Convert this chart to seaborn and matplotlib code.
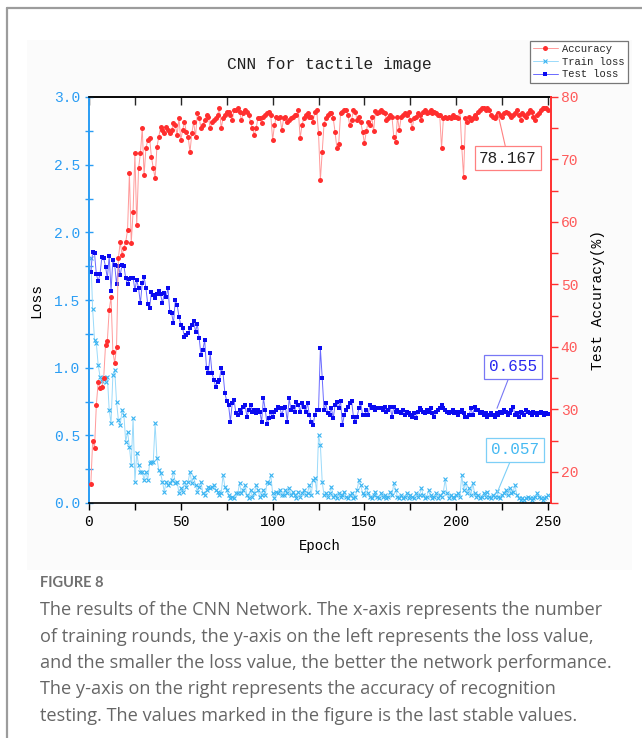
import numpy as np
import pandas as pd
import matplotlib
matplotlib.use("Agg")
import matplotlib.pyplot as plt
import seaborn as sns
from matplotlib.lines import Line2D
from matplotlib.patches import Rectangle
from matplotlib.ticker import MultipleLocator

# ---------------- data ----------------
accuracy = [
    18, 25, 23.8, 30.7, 34.4, 33.4, 33.6, 35, 40.3, 41,
    45.9, 48, 39.2, 37.4, 40, 54.2, 56.8, 54.7, 55.8, 56.8,
    58.7, 67.8, 56.6, 61.6, 71, 59.5, 68.6, 71, 75, 67.5,
    71.8, 73.1, 73.4, 70.4,
    68.6, 67, 72, 73.6, 75.2, 74.7, 74.2, 75.2, 74.7, 74.2,
    74.7, 75.8, 75.5, 73.9, 76.6, 73.1, 74.7, 76, 74.4, 73.6,
    71.2, 74.2, 76, 73.6, 77.4, 76.6, 75, 75.5, 76.3, 77.1,
    76.8, 75, 76, 76.3, 76.6, 77.1, 78.2, 75, 76.6, 77.1,
    77.6, 77.6, 77.1, 76.3, 77.9, 77.9,
    78.2, 77.6, 76.3, 77.4, 77.9, 77.6, 77.1, 76, 75, 73.9,
    75, 76.6, 76.6, 75.8, 76.8, 77.1, 77.4, 77.6, 77.1, 73.1,
    75.5, 76.8, 76.6, 76.8, 74.7, 76.6, 76.8, 76, 76.3, 76.6,
    76.8, 77.1, 77.1, 77.9, 73.4, 75.5, 76.6, 77.1, 77.4, 76.8,
    76.8, 76, 77.6, 77.9, 74.2, 66.7,
    71.2, 75.7, 76.6, 77.1, 77.4, 77.4, 76.6, 74.4, 71.8, 72.5,
    77.4, 77.6, 77.9, 77.9, 77.1, 75.5, 76.3, 77.9, 77.6, 76.3,
    76.8, 76, 74.4, 72.6, 74.5, 76, 75.5, 76.8, 74.5, 77.8,
    77.4, 77.6, 77.9, 77.6, 77.4, 76.3, 76.6, 77.1, 76.8, 73.6,
    72.8,
    76.8, 74.7, 76.8, 77.1, 77.4, 77.1, 77.6, 76.3, 75, 76.6,
    76.8, 77.4, 77.1, 76.3, 77.6, 77.9, 77.4, 77.6, 77.9, 77.4,
    77.6, 77.4, 77.1, 77.1, 71.8, 76.6, 76.8, 76.6, 76.8, 76.6,
    77.1, 76.8, 76.8, 76.6, 77.8, 72, 67.2,
    76.6, 76, 76.8, 76.3, 76.6, 77.1, 76.6,
    77.6, 77.9, 78.2, 78.2, 77.9, 78.2, 77.9, 77.1, 76.8, 76.6,
    77.1, 77.4, 77.1, 76.8, 77.4, 77.6, 77.4, 77.1, 76.8, 77.1,
    77.4, 77.9, 77.1, 76.3, 77.4, 77.1, 76.8, 77.4, 77.9, 77.6,
    76.8, 76.3, 77.1, 77.4, 77.9, 78.2, 78.2, 78.2, 77.9,
]

test_loss = [
    1.71, 1.857, 1.845, 1.69, 1.64, 1.69, 1.816, 1.808, 1.747, 1.66,
    1.826, 1.567, 1.796, 1.759, 1.616, 1.752, 1.685, 1.759, 1.754, 1.66,
    1.616, 1.656, 1.66, 1.665, 1.574, 1.648, 1.587, 1.476, 1.624, 1.673,
    1.587, 1.469, 1.439, 1.562,
    1.537, 1.513, 1.542, 1.567, 1.542, 1.476, 1.55, 1.525, 1.587, 1.414,
    1.402, 1.328, 1.5, 1.463, 1.377, 1.316, 1.291, 1.229, 1.242, 1.254,
    1.291, 1.316, 1.345, 1.266, 1.321, 1.217, 1.094, 1.131, 1.205, 0.995,
    0.958, 1.106, 0.958, 0.909, 0.86, 0.897, 0.909, 0.995, 0.958, 0.811,
    0.754, 0.724, 0.601, 0.737, 0.761, 0.663, 0.65,
    0.687, 0.663, 0.712, 0.724, 0.638, 0.687, 0.724, 0.675, 0.687, 0.663,
    0.687, 0.675, 0.601, 0.774, 0.687, 0.582, 0.626, 0.675, 0.638, 0.675,
    0.687, 0.712, 0.7, 0.65, 0.7, 0.712, 0.601, 0.774, 0.687, 0.712,
    0.675, 0.749, 0.724, 0.675, 0.737, 0.712, 0.675, 0.737, 0.65, 0.601,
    0.576, 0.65, 0.687, 0.687,
    1.143,
    0.926, 0.687, 0.737, 0.663, 0.65, 0.7, 0.626, 0.724, 0.749, 0.7,
    0.754, 0.576, 0.65, 0.687, 0.712, 0.737, 0.754, 0.638, 0.601, 0.638,
    0.7, 0.737, 0.65, 0.65, 0.687, 0.65, 0.724, 0.7, 0.712, 0.687,
    0.7, 0.704, 0.7, 0.687, 0.712, 0.675, 0.687, 0.712, 0.638, 0.712,
    0.675, 0.687,
    0.675, 0.663, 0.687, 0.65, 0.675, 0.663, 0.65, 0.638, 0.663, 0.626,
    0.675, 0.7, 0.687, 0.675, 0.663, 0.687, 0.675, 0.7, 0.663, 0.638,
    0.675, 0.687, 0.7, 0.724, 0.7, 0.687, 0.675, 0.663, 0.675, 0.687,
    0.663, 0.675, 0.65, 0.675, 0.687, 0.663, 0.638, 0.638, 0.65, 0.7,
    0.65, 0.712, 0.687,
    0.687, 0.663, 0.675, 0.65, 0.663, 0.638, 0.65, 0.663, 0.65, 0.638,
    0.663, 0.65, 0.675, 0.663, 0.687, 0.675, 0.65, 0.663, 0.687, 0.712,
    0.65, 0.663, 0.638, 0.675, 0.663, 0.65, 0.687, 0.675, 0.663, 0.65,
    0.675, 0.663, 0.65, 0.663, 0.675, 0.663, 0.65, 0.663, 0.655,
]

train_loss = [
    1.81, 1.43, 1.205, 1.18, 1.02, 0.934, 0.9, 0.926, 0.897, 0.934,
    0.687, 0.589, 0.946, 0.983, 0.749, 0.613, 0.576, 0.687, 0.65, 0.453,
    0.527, 0.416, 0.281, 0.626, 0.157, 0.367, 0.281, 0.231, 0.231, 0.17,
    0.231, 0.17, 0.293, 0.305,
    0.305, 0.589, 0.33, 0.244, 0.219, 0.157, 0.084, 0.157, 0.133, 0.146,
    0.17, 0.231, 0.146, 0.157, 0.072, 0.109, 0.084, 0.157, 0.12, 0.157,
    0.231, 0.146, 0.194, 0.133, 0.084, 0.12, 0.157, 0.072, 0.059, 0.096,
    0.12, 0.109, 0.12, 0.133, 0.096, 0.084, 0.059, 0.072, 0.207, 0.12,
    0.096, 0.059, 0.035, 0.047, 0.035, 0.072, 0.072,
    0.146, 0.072, 0.096, 0.133, 0.059, 0.035, 0.096, 0.047, 0.072, 0.133,
    0.096, 0.047, 0.059, 0.096, 0.059, 0.157, 0.146, 0.207, 0.072, 0.035,
    0.084, 0.072, 0.096, 0.059, 0.059, 0.096, 0.072, 0.109, 0.059, 0.084,
    0.059, 0.035, 0.084, 0.047, 0.072, 0.096, 0.059, 0.072, 0.133, 0.059,
    0.17, 0.182, 0.084,
    0.503, 0.43,
    0.157, 0.059, 0.072, 0.047, 0.072, 0.12, 0.047, 0.059, 0.035, 0.072,
    0.047, 0.059, 0.084, 0.047, 0.035, 0.059, 0.072, 0.035, 0.047, 0.096,
    0.17, 0.133, 0.072, 0.059, 0.12, 0.072, 0.047, 0.035, 0.059, 0.084,
    0.047, 0.035, 0.072, 0.047, 0.059, 0.035, 0.047, 0.084, 0.059, 0.146,
    0.096, 0.047, 0.035, 0.059, 0.035, 0.047, 0.072, 0.035, 0.059, 0.047,
    0.035, 0.072, 0.047, 0.059, 0.109, 0.059, 0.035, 0.047, 0.096, 0.059,
    0.035, 0.047, 0.072, 0.035, 0.059, 0.047, 0.084, 0.175, 0.072, 0.035,
    0.059, 0.047, 0.035, 0.059, 0.072, 0.047, 0.207, 0.096, 0.146, 0.072,
    0.109, 0.059, 0.146, 0.072, 0.047, 0.059, 0.035, 0.047, 0.072, 0.047,
    0.084, 0.047, 0.035, 0.059, 0.047, 0.089, 0.047, 0.035, 0.059, 0.072,
    0.096, 0.059, 0.109, 0.072, 0.084, 0.133, 0.059, 0.035, 0.023, 0.035,
    0.023, 0.035, 0.047, 0.035, 0.023, 0.035, 0.047, 0.072, 0.047, 0.035,
    0.023, 0.035, 0.047, 0.057,
]

x_ticks = [0, 50, 100, 150, 200, 250]
loss_ticks = [0.0, 0.5, 1.0, 1.5, 2.0, 2.5, 3.0]
acc_ticks = [20, 30, 40, 50, 60, 70, 80]

title = "CNN for tactile image"
caption_head = "FIGURE 8"
caption_lines = [
    "The results of the CNN Network. The x-axis represents the number",
    "of training rounds, the y-axis on the left represents the loss value,",
    "and the smaller the loss value, the better the network performance.",
    "The y-axis on the right represents the accuracy of recognition",
    "testing. The values marked in the figure is the last stable values.",
]

n = min(len(accuracy), len(test_loss), len(train_loss))
df = pd.DataFrame({
    "epoch": np.arange(1, n + 1),
    "accuracy": accuracy[:n],
    "train": train_loss[:n],
    "test": test_loss[:n],
})

# ---------------- style ----------------
sns.set_theme(style="white")
plt.rcParams["font.family"] = ["Liberation Mono", "DejaVu Sans"]

LEFT_C = "#2A9DF4"
RED_C = "#FF3030"
RED_TXT = "#FF5A5A"

W, H = 642, 738
fig = plt.figure(figsize=(W / 100, H / 100), dpi=100)
fig.patch.set_facecolor("white")

def fx(px):
    return px / W

def fy(py):
    return 1 - py / H

# card background + frame
fig.add_artist(Rectangle((fx(27), fy(570)), fx(632) - fx(27), fy(40) - fy(570),
                         transform=fig.transFigure, facecolor="#fbfbfb",
                         edgecolor="none", zorder=-5))
fig.add_artist(Line2D([fx(7), fx(7)], [0, fy(8)], transform=fig.transFigure,
                      color="#9c9c9c", lw=1.6))
fig.add_artist(Line2D([fx(7), 1], [fy(8), fy(8)], transform=fig.transFigure,
                      color="#9c9c9c", lw=1.6))

ax = fig.add_axes([fx(89), fy(503), fx(551) - fx(89), fy(97) - fy(503)])
ax.set_facecolor("white")
ax2 = ax.twinx()

sns.lineplot(data=df, x="epoch", y="train", ax=ax, color="#9ADAFA", lw=0.7,
             marker="x", markersize=3.4, markeredgecolor="#3AB4F2",
             markeredgewidth=0.8, label="Train loss", legend=False)
sns.lineplot(data=df, x="epoch", y="test", ax=ax, color="#6A6AFF", lw=0.7,
             marker="s", markersize=3.4, markerfacecolor="#0A0AF0",
             markeredgecolor="#0A0AF0", markeredgewidth=0,
             label="Test loss", legend=False)
sns.lineplot(data=df, x="epoch", y="accuracy", ax=ax2, color="#FF9A9A", lw=0.7,
             marker="o", markersize=3.6, markerfacecolor="#FF2E2E",
             markeredgecolor="#FF2E2E", markeredgewidth=0,
             label="Accuracy", legend=False)

ax.set_xlim(0, 251.6)
ax.set_ylim(0, 3.0)
ax2.set_ylim(15, 80)

ax.set_xticks(x_ticks)
ax.set_xticklabels([str(v) for v in x_ticks])
ax.xaxis.set_minor_locator(MultipleLocator(25))
ax.set_yticks(loss_ticks)
ax.set_yticklabels([f"{v:.1f}" for v in loss_ticks])
ax.yaxis.set_minor_locator(MultipleLocator(0.25))
ax2.set_yticks(acc_ticks)
ax2.set_yticklabels([str(v) for v in acc_ticks])
ax2.yaxis.set_minor_locator(MultipleLocator(5))

ax.tick_params(axis="x", which="both", direction="out", length=5, width=1,
               colors="black", labelsize=10.5, pad=4, bottom=True, top=False)
ax.tick_params(axis="y", which="both", direction="inout", length=6, width=1,
               color=LEFT_C, labelcolor=LEFT_C, labelsize=10.5, pad=3, left=True)
ax2.tick_params(axis="y", which="both", direction="out", length=5, width=1,
                color=RED_C, labelcolor=RED_TXT, labelsize=10.5, pad=2, right=True)

top = ax.secondary_xaxis("top")
top.set_xticks(list(range(0, 251, 25)))
top.tick_params(direction="in", length=6, width=1, labeltop=False)
top.set_xticklabels([])
top.spines["top"].set_linewidth(1.2)

for s in ["top", "bottom"]:
    ax.spines[s].set_color("black")
    ax.spines[s].set_linewidth(1.2)
ax.spines["left"].set_color(LEFT_C)
ax.spines["left"].set_linewidth(1.4)
ax.spines["right"].set_visible(False)
ax2.spines["left"].set_visible(False)
ax2.spines["top"].set_visible(False)
ax2.spines["bottom"].set_visible(False)
ax2.spines["right"].set_color(RED_C)
ax2.spines["right"].set_linewidth(1.4)

ax.set_xlabel("Epoch", fontsize=10, color="black", labelpad=7)
ax.set_ylabel("Loss", fontsize=10.5, color="black", labelpad=8)
ax2.set_ylabel("Test Accuracy(%)", fontsize=10.5, color="black", labelpad=9)

fig.text(fx(329), fy(65), title, ha="center", va="center", fontsize=11.7,
         color="#222222")

# annotations
ax2.annotate("78.167", xy=(222.8, 77.2), xytext=(228.2, 70.2),
             ha="center", va="center", fontsize=11.5, color="#222222",
             bbox=dict(boxstyle="square,pad=0.28", fc="white", ec="#FF8080", lw=0.9),
             arrowprops=dict(arrowstyle="-", color="#FF8080", lw=0.8,
                             shrinkA=0, shrinkB=0))
ax.annotate("0.655", xy=(222.2, 0.70), xytext=(230.9, 1.005),
            ha="center", va="center", fontsize=11.5, color="#2828F0",
            bbox=dict(boxstyle="square,pad=0.28", fc="white", ec="#7878F5", lw=0.9),
            arrowprops=dict(arrowstyle="-", color="#7878F5", lw=0.8,
                            shrinkA=0, shrinkB=0))
ax.annotate("0.057", xy=(222.2, 0.074), xytext=(232.0, 0.392),
            ha="center", va="center", fontsize=11.5, color="#45B9F2",
            bbox=dict(boxstyle="square,pad=0.28", fc="white", ec="#7DCFF7", lw=0.9),
            arrowprops=dict(arrowstyle="-", color="#7DCFF7", lw=0.8,
                            shrinkA=0, shrinkB=0))

# legend
h1, l1 = ax2.get_legend_handles_labels()
h0, l0 = ax.get_legend_handles_labels()
hd = dict(zip(l1 + l0, h1 + h0))
order = ["Accuracy", "Train loss", "Test loss"]
leg = fig.legend([hd[k] for k in order], order, loc="upper right",
                 bbox_to_anchor=(fx(628), fy(41)), fontsize=7.6, frameon=True,
                 fancybox=False, edgecolor="#777777", framealpha=1,
                 handlelength=2.4, handletextpad=0.4, borderpad=0.3,
                 labelspacing=0.25, borderaxespad=0)
leg.get_frame().set_linewidth(0.9)

# caption
fig.text(fx(40), fy(583), caption_head, ha="left", va="center", fontsize=10.5,
         fontweight="bold", color="#707070", family=["Lato", "DejaVu Sans"])
for i, line in enumerate(caption_lines):
    fig.text(fx(40), fy(610 + i * 26.5), line, ha="left", va="center",
             fontsize=13.1, color="#666666", family=["Open Sans", "DejaVu Sans"])

fig.savefig("out.png", dpi=100, facecolor="white")
